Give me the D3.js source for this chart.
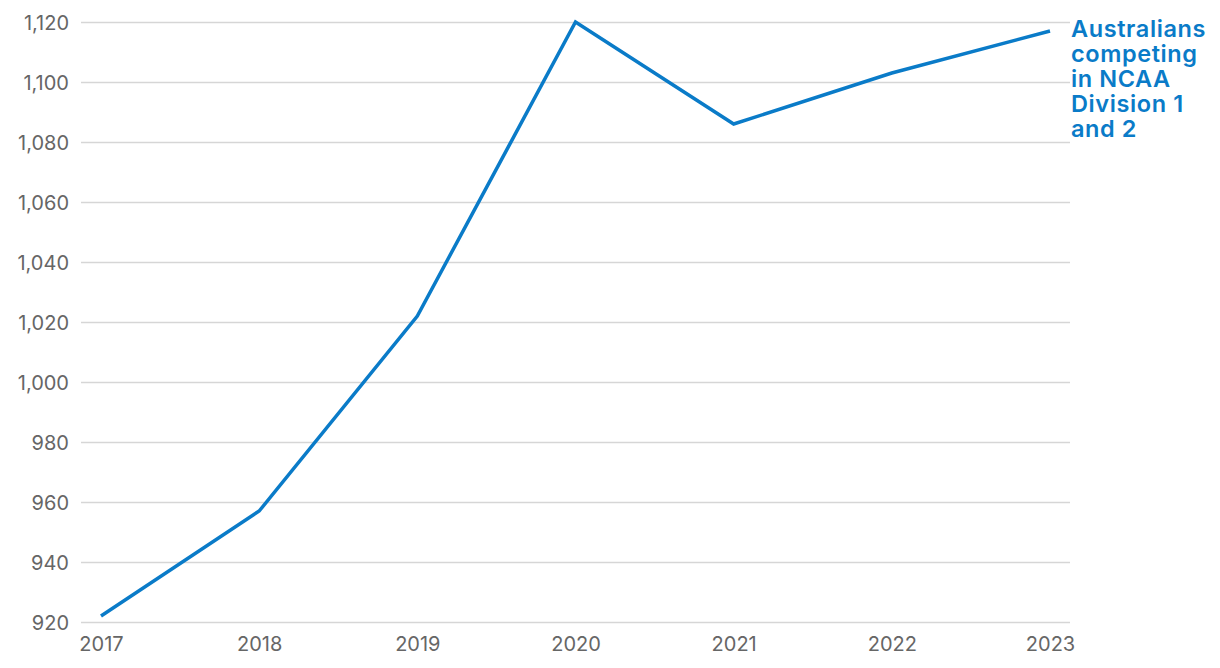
<!DOCTYPE html>
<html><head><meta charset="utf-8">
<script src="https://cdn.jsdelivr.net/npm/d3@7"></script>
<style>body{margin:0;background:#fff;}svg{display:block;}</style>
</head><body>
<svg id="c" width="1220" height="668"></svg>
<script>
const years = ["2017","2018","2019","2020","2021","2022","2023"];
const values = [922, 957, 1022, 1120, 1086, 1103, 1117];
const yTicks = [920, 940, 960, 980, 1000, 1020, 1040, 1060, 1080, 1100, 1120];
const seriesLabel = ["Australians", "competing", "in NCAA", "Division 1", "and 2"];

const svg = d3.select("#c");
const x = d3.scalePoint().domain(years).range([101, 1050]);
const y = d3.scaleLinear().domain([920, 1120]).range([622, 22]);
const font = "Inter, 'Noto Sans', sans-serif";

const g = svg.append("g").attr("transform","translate(81,0)").call(
  d3.axisLeft(y).tickValues(yTicks).tickSize(-989).tickPadding(12).tickFormat(d3.format(","))
);
g.select(".domain").remove();
g.selectAll(".tick line").attr("stroke","#d6d6d6").attr("stroke-width",1.5);
g.selectAll(".tick text").attr("fill","#666").attr("font-size",20).attr("font-family",font).attr("dy","0.36em");

const gx = svg.append("g").attr("transform","translate(0,622)").call(d3.axisBottom(x).tickSize(0).tickPadding(15));
gx.select(".domain").remove();
gx.selectAll(".tick text").attr("fill","#666").attr("font-size",20).attr("font-family",font).attr("dy","0.71em");

const line = d3.line().x((d,i)=>x(years[i])).y(d=>y(d));
svg.append("path").datum(values).attr("d",line).attr("fill","none")
  .attr("stroke","#0a7bc8").attr("stroke-width",3.5).attr("stroke-linejoin","miter");

const t = svg.append("text").attr("x",1071).attr("y",37).attr("fill","#0a7bc8")
  .attr("font-size",23.5).attr("font-weight",600).attr("letter-spacing",0.6).attr("font-family",font);
seriesLabel.forEach((s,i)=>t.append("tspan").attr("x",1071).attr("y",37+i*25).text(s));
</script>
</body></html>
